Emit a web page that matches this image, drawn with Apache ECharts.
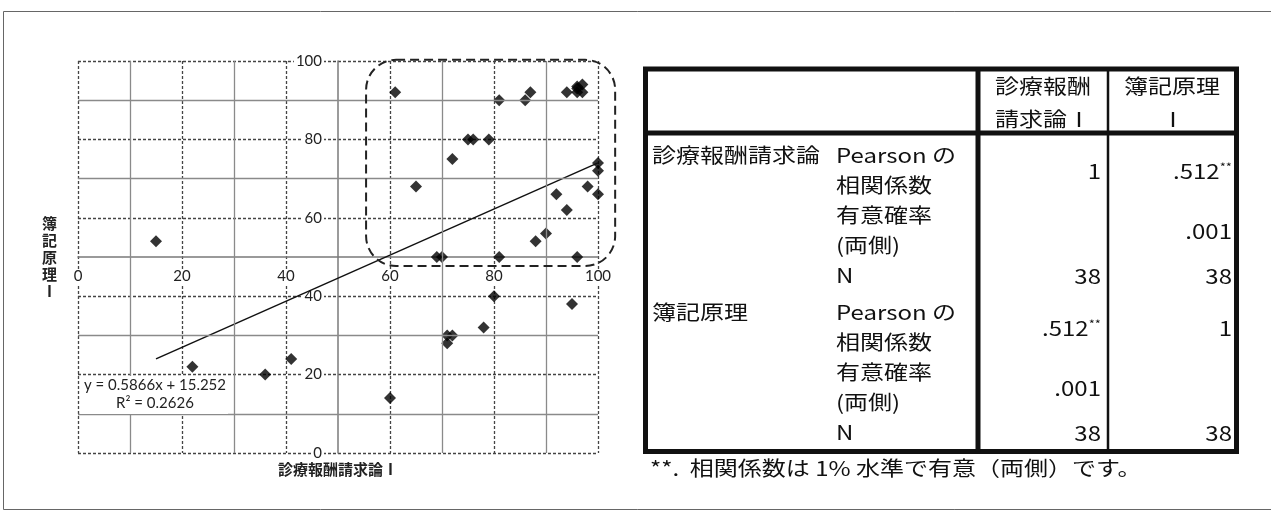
<!DOCTYPE html>
<html>
<head>
<meta charset="utf-8">
<script src="https://cdn.jsdelivr.net/npm/echarts@6/dist/echarts.min.js"></script>
<style>
html, body { margin: 0; padding: 0; background: #fff; }
#chartMain { width: 1271px; height: 521px; }
</style>
</head>
<body>
<div id="chartMain"></div>
<script>
// 診療報酬請求論Ⅰ (x) vs 簿記原理Ⅰ (y)
var scoreData = [
	[15, 54], [22, 22], [36, 20], [41, 24], [60, 14], [61, 92], [65, 68],
	[69, 50], [70, 50], [71, 28], [71, 30], [72, 30], [72, 75], [75, 80],
	[76, 80], [78, 32], [79, 80], [80, 40], [81, 50], [81, 90], [86, 90],
	[87, 92], [88, 54], [90, 56], [92, 66], [94, 62], [94, 92], [95, 38],
	[96, 50], [96, 93.5], [97, 94], [97, 92], [96, 93], [96, 92], [98, 68],
	[100, 74], [100, 72], [100, 66]
];
var trendLine = [[15, 24], [100, 74]];
var trendText = 'y = 0.5866x + 15.252\nR² = 0.2626';
var axisTicks = [0, 20, 40, 60, 80, 100];
var solidGrid = [10, 30, 70, 90];
var boxCorners = [[55.4, 100.3], [103.3, 47.7]];
var xName = '診療報酬請求論Ⅰ';
var yName = '簿記原理Ⅰ';

// correlation table
var colHeads = [['診療報酬', '請求論Ⅰ'], ['簿記原理', 'Ⅰ']];
var rowHeads = ['診療報酬請求論', '簿記原理'];
var statNames = [['Pearson の', '相関係数'], ['有意確率', '(両側)'], ['N']];
var corrValues = [['1', '.512**'], ['.512**', '1']];
var sigValues = [['', '.001'], ['.001', '']];
var nValues = [['38', '38'], ['38', '38']];
var footNote = '**.  相関係数は 1% 水準で有意（両側）です。';

var labelFont = 'Lato, "Open Sans", sans-serif';
var jpFont = '"Noto Sans CJK JP", sans-serif';
var tickStep = axisTicks[1] - axisTicks[0];

var chartMain = echarts.init(document.getElementById('chartMain'));

option_main = {
	animation: false,
	grid: {
		left: 78,
		top: 61,
		width: 520,
		height: 392
	},
	xAxis: [{
		type: 'value',
		min: axisTicks[0],
		max: axisTicks[axisTicks.length - 1],
		interval: tickStep,
		axisLine: { show: false },
		axisTick: { show: false },
		axisLabel: { show: false },
		splitLine: {
			show: true,
			lineStyle: { color: '#444', type: [3, 2], width: 1.3 }
		},
		name: xName,
		nameLocation: 'middle',
		nameGap: 9,
		nameTextStyle: {
			fontFamily: jpFont,
			fontWeight: 'bold',
			fontSize: 15,
			color: '#222',
			verticalAlign: 'top'
		}
	}, {
		type: 'value',
		position: 'bottom',
		offset: -196,
		z: 1,
		min: axisTicks[0],
		max: axisTicks[axisTicks.length - 1],
		interval: tickStep,
		axisLine: {
			show: true,
			onZero: false,
			lineStyle: { color: '#7a7a7a', width: 1.5 }
		},
		axisTick: { show: false },
		splitLine: { show: false },
		axisLabel: {
			margin: 12,
			fontFamily: labelFont,
			fontSize: 15,
			color: '#222',
			backgroundColor: '#fff',
			padding: [0, 2]
		}
	}],
	yAxis: [{
		type: 'value',
		min: axisTicks[0],
		max: axisTicks[axisTicks.length - 1],
		interval: tickStep,
		axisLine: { show: false },
		axisTick: { show: false },
		axisLabel: { show: false },
		splitLine: {
			show: true,
			lineStyle: { color: '#444', type: [3, 2], width: 1.3 }
		},
		name: yName.split('').join('\n'),
		nameLocation: 'middle',
		nameRotate: 0,
		nameGap: 21,
		nameTextStyle: {
			fontFamily: jpFont,
			fontWeight: 'bold',
			fontSize: 15,
			lineHeight: 17,
			color: '#222',
			align: 'right',
			verticalAlign: 'middle',
			padding: [0, 0, 18, 0]
		}
	}, {
		type: 'value',
		position: 'left',
		offset: -260,
		z: 1,
		min: axisTicks[0],
		max: axisTicks[axisTicks.length - 1],
		interval: tickStep,
		axisLine: {
			show: true,
			onZero: false,
			lineStyle: { color: '#7a7a7a', width: 1.5 }
		},
		axisTick: { show: false },
		splitLine: { show: false },
		axisLabel: {
			margin: 14,
			fontFamily: labelFont,
			fontSize: 15,
			color: '#222',
			backgroundColor: '#fff',
			padding: [0, 2]
		}
	}],
	series: [{
		name: 'trend',
		type: 'line',
		xAxisIndex: 0,
		yAxisIndex: 0,
		data: trendLine,
		symbol: 'none',
		lineStyle: { color: '#111', width: 1.5 },
		markLine: {
			silent: true,
			symbol: ['none', 'none'],
			label: { show: false },
			lineStyle: { color: '#8a8a8a', type: 'solid', width: 1.3 },
			data: solidGrid.map(function (v) {
				return { xAxis: v };
			}).concat(solidGrid.map(function (v) {
				return { yAxis: v };
			}))
		}
	}, {
		name: 'score',
		type: 'scatter',
		xAxisIndex: 0,
		yAxisIndex: 0,
		symbol: 'diamond',
		symbolSize: 12,
		itemStyle: { color: '#000' },
		data: scoreData
	}]
};
chartMain.setOption(option_main);

function tableText(x, y, text, align, rich) {
	return {
		type: 'text',
		x: x,
		y: y,
		scaleX: 1.2,
		z: 20,
		style: {
			text: text,
			align: align,
			verticalAlign: 'middle',
			fontFamily: jpFont,
			fontSize: 20,
			fill: '#111',
			rich: rich
		}
	};
}

function valueText(x, y, text) {
	if (text.indexOf('**') > 0) {
		return tableText(x, y, '{v|' + text.replace('**', '') + '}{s|**}', 'right', {
			v: { fontFamily: jpFont, fontSize: 20, fill: '#111' },
			s: { fontFamily: jpFont, fontSize: 11, fill: '#111', verticalAlign: 'top' }
		});
	}
	return tableText(x, y, text, 'right');
}

function buildGraphics() {
	var items = [];
	// outer frame of the figure
	items.push({
		type: 'rect',
		shape: { x: 3.5, y: 11.5, width: 1300, height: 498 },
		style: { fill: null, stroke: '#666', lineWidth: 1 },
		z: 0
	});

	// rounded dashed highlight box
	var p0 = chartMain.convertToPixel({ seriesIndex: 1 }, boxCorners[0]);
	var p1 = chartMain.convertToPixel({ seriesIndex: 1 }, boxCorners[1]);
	items.push({
		type: 'rect',
		shape: { x: p0[0], y: p0[1], width: p1[0] - p0[0], height: p1[1] - p0[1], r: 30 },
		style: { fill: null, stroke: '#222', lineWidth: 2, lineDash: [9, 5] },
		z: 10
	});

	// regression equation label
	items.push({
		type: 'rect',
		shape: { x: 80, y: 376, width: 148, height: 38 },
		style: { fill: '#fff' },
		z: 5
	});
	items.push({
		type: 'text',
		x: 155,
		y: 394,
		z: 6,
		style: {
			text: trendText,
			align: 'center',
			verticalAlign: 'middle',
			fontFamily: labelFont,
			fontSize: 15,
			lineHeight: 18,
			fill: '#222'
		}
	});

	// table borders
	var lineStyleThick = { stroke: '#111', lineWidth: 5 };
	items.push({
		type: 'rect',
		shape: { x: 645.5, y: 69, width: 591, height: 382.5 },
		style: { fill: null, stroke: '#111', lineWidth: 5 },
		z: 20
	});
	items.push({ type: 'line', shape: { x1: 645.5, y1: 133, x2: 1236.5, y2: 133 }, style: lineStyleThick, z: 20 });
	items.push({ type: 'line', shape: { x1: 978, y1: 69, x2: 978, y2: 451.5 }, style: lineStyleThick, z: 20 });
	items.push({ type: 'line', shape: { x1: 1108, y1: 69, x2: 1108, y2: 451.5 }, style: { stroke: '#111', lineWidth: 2.5 }, z: 20 });

	// column heads
	items.push(tableText(995, 86, colHeads[0][0], 'left'));
	items.push(tableText(995, 119, colHeads[0][1], 'left'));
	items.push(tableText(1172, 86, colHeads[1][0], 'center'));
	items.push(tableText(1173, 119, colHeads[1][1], 'center'));

	var rowBase = [155, 312];
	var colRight = [1101, 1232];
	for (var r = 0; r < rowHeads.length; r++) {
		var base = rowBase[r];
		items.push(tableText(652, base, rowHeads[r], 'left'));
		var line = 0;
		for (var s = 0; s < statNames.length; s++) {
			var top = line;
			for (var k = 0; k < statNames[s].length; k++) {
				items.push(tableText(836, base + line * 30, statNames[s][k], 'left'));
				line++;
			}
			var midY = base + (top + line - 1) * 15;
			var vals = s === 0 ? corrValues[r] : (s === 1 ? sigValues[r] : nValues[r]);
			for (var c = 0; c < vals.length; c++) {
				if (vals[c]) items.push(valueText(colRight[c], midY + 1, vals[c]));
			}
		}
	}

	items.push(tableText(650, 468, footNote, 'left'));
	return items;
}

chartMain.setOption({ graphic: buildGraphics() });

window.onresize = function () {
	chartMain.resize();
};
</script>
</body>
</html>
